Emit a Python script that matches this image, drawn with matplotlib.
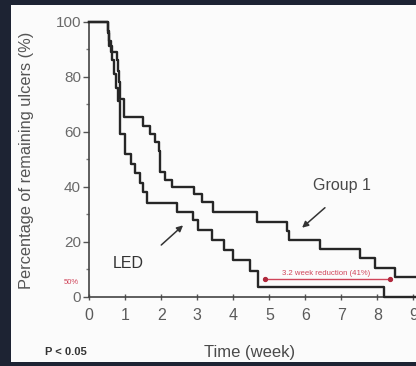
import matplotlib
matplotlib.use("Agg")
import matplotlib.pyplot as plt
from matplotlib.patches import Rectangle

plt.rcParams['font.family'] = ['Liberation Sans', 'DejaVu Sans']

# Group 1 (upper curve): step start times (weeks) and remaining ulcers (%)
group1_t = [0, 0.51, 0.55, 0.60, 0.76, 0.80, 0.83, 0.86, 0.96, 1.50, 1.69, 1.83,
            1.93, 1.97, 2.10, 2.29, 2.90, 3.12, 3.44, 4.66, 5.50, 5.55, 6.41,
            7.52, 7.93, 8.49, 9.10]
group1_v = [100, 96.5, 93, 89, 86, 82, 78, 72, 65.2, 62.2, 59.2, 56.2,
            53, 45.3, 42.3, 40, 37.5, 34.4, 30.8, 27.3, 24, 20.7, 17.2,
            13.9, 10.6, 7.0, 7.0]

# LED (lower curve)
led_t = [0, 0.51, 0.56, 0.62, 0.68, 0.74, 0.80, 0.85, 0.99, 1.17, 1.26, 1.40,
         1.50, 1.60, 2.43, 2.88, 3.02, 3.41, 3.73, 4.00, 4.46, 4.69, 8.17, 9.10]
led_v = [100, 96, 91, 86, 81, 76, 71, 59.3, 51.7, 48.3, 44.8, 41.4,
         37.9, 34, 30.7, 27.8, 24.2, 20.5, 17.1, 13.5, 9.5, 3.6, 0, 0]

x_ticks = [0, 1, 2, 3, 4, 5, 6, 7, 8, 9]
y_ticks = [0, 20, 40, 60, 80, 100]

reduction_start, reduction_end, reduction_level = 4.88, 8.35, 6.3

W, H = 416, 366
fig = plt.figure(figsize=(W / 100, H / 100), dpi=100)
fig.patch.set_facecolor('#1d2333')
bg = fig.add_axes([11 / W, (H - 361.5) / H, 1, (361.5 - 4.5) / H])
bg.set_axis_off()
bg.add_patch(Rectangle((0, 0), 1, 1, transform=bg.transAxes, facecolor='#fbfbfb',
                       edgecolor='none'))
bg.set_zorder(0)

ax = fig.add_axes([89.3 / W, (H - 296.7) / H, (W - 89.3) / W, (296.7 - 21.5) / H])
ax.set_zorder(1)
ax.set_facecolor('none')
ax.set_xlim(0, 9.07)
ax.set_ylim(0, 100)

line_c = '#262626'
ax.plot(group1_t, group1_v, drawstyle='steps-post', color=line_c, lw=1.7, clip_on=False, zorder=3)
ax.plot(led_t, led_v, drawstyle='steps-post', color=line_c, lw=1.7, clip_on=False, zorder=3)

for s in ['top', 'right']:
    ax.spines[s].set_visible(False)
for s in ['left', 'bottom']:
    ax.spines[s].set_color('#444444')
    ax.spines[s].set_linewidth(1.2)

ax.set_xticks(x_ticks)
ax.set_yticks(y_ticks)
ax.set_yticks([10, 30, 50, 70, 90], minor=True)
ax.tick_params(axis='y', which='major', direction='out', length=4, width=1, color='#555555',
               labelsize=11, labelcolor='#6a6a6a', pad=2)
ax.tick_params(axis='y', which='minor', direction='out', length=2.5, width=1, color='#777777')
ax.tick_params(axis='x', which='major', direction='inout', length=4, width=1, color='#555555',
               labelsize=11.5, labelcolor='#5a5a5a', pad=6)

# red annotation
red = '#d0455a'
ax.plot([reduction_start, reduction_end], [reduction_level] * 2, color=red, lw=1.0, zorder=4)
ax.plot([reduction_start, reduction_end], [reduction_level] * 2, 'o', color='#b0283c', ms=2.8, zorder=5)
ax.text((reduction_start + reduction_end) / 2 - 0.05, reduction_level + 1.0,
        '3.2 week reduction (41%)', color=red, fontsize=5.6, ha='center', va='bottom')
ax.text(-0.3, 5.3, '50%', color=red, fontsize=5.5, ha='right', va='center', clip_on=False)

# labels and arrows
ax.text(6.2, 40.5, 'Group 1', fontsize=11.5, color='#484848', ha='left', va='center')
ax.annotate('', xy=(5.85, 24.4), xytext=(6.6, 33.0),
            arrowprops=dict(arrowstyle='-|>', color='#333333', lw=1.1, mutation_scale=9))
ax.text(0.66, 12.2, 'LED', fontsize=11.5, color='#333333', ha='left', va='center')
ax.annotate('', xy=(2.66, 26.6), xytext=(1.94, 18.1),
            arrowprops=dict(arrowstyle='-|>', color='#333333', lw=1.1, mutation_scale=9))

fig.text(27 / W, 1 - 160 / H, 'Percentage of remaining ulcers (%)', rotation=90,
         fontsize=11.8, color='#555555', ha='center', va='center')
fig.text(250 / W, 1 - 352 / H, 'Time (week)', fontsize=12, color='#4a4a4a',
         ha='center', va='center')
fig.text(45 / W, 1 - 352 / H, 'P < 0.05', fontsize=8, color='#333333',
         ha='left', va='center', fontweight='bold')

fig.savefig('out.png', dpi=100, facecolor=fig.get_facecolor())
